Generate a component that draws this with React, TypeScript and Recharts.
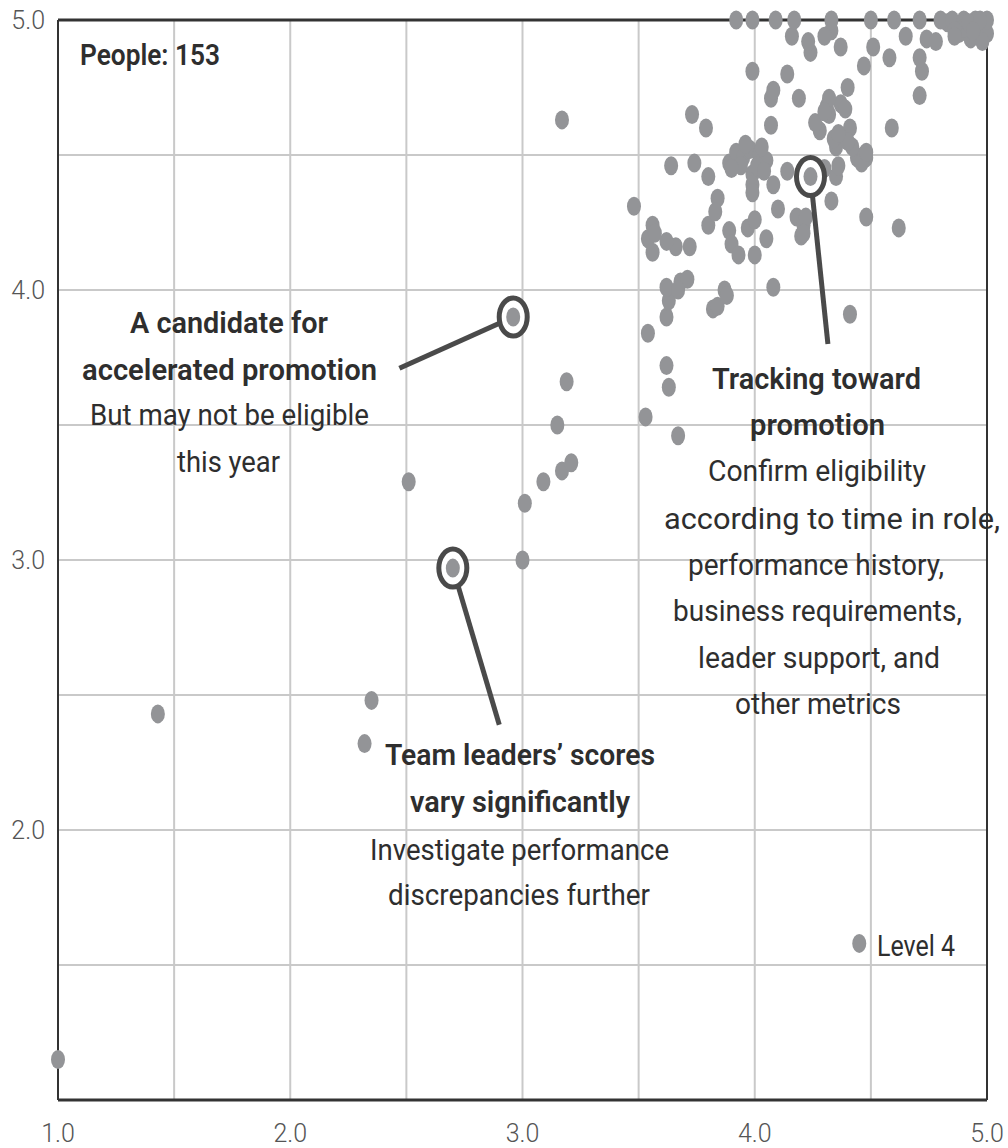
import React from "react"
import { ScatterChart, Scatter, XAxis, YAxis, CartesianGrid, ReferenceLine } from "recharts"

document.body.style.margin = "0"

// [performance score, team leader score] for each person
const people: [number, number][] = [
  [1.0, 1.15], [1.43, 2.43], [2.32, 2.32], [2.35, 2.48], [2.51, 3.29],
  [2.7, 2.97], [3.0, 3.0], [3.01, 3.21], [3.09, 3.29], [3.17, 3.33],
  [3.21, 3.36], [3.15, 3.5], [3.19, 3.66], [2.96, 3.9], [3.17, 4.63],
  [4.45, 1.58], [3.53, 3.53], [3.67, 3.46], [3.62, 3.72], [3.63, 3.64],
  [3.54, 3.84], [3.62, 3.9], [3.63, 3.96], [3.62, 4.01], [3.68, 4.03],
  [3.71, 4.04], [3.82, 3.93], [3.84, 3.94], [3.87, 4.0], [3.88, 3.98],
  [4.08, 4.01], [4.41, 3.91], [3.48, 4.31], [3.56, 4.24], [3.54, 4.19],
  [3.56, 4.14], [3.66, 4.16], [3.72, 4.16], [3.8, 4.24], [3.84, 4.34],
  [3.83, 4.29], [3.89, 4.22], [3.9, 4.17], [3.93, 4.13], [3.97, 4.23],
  [4.0, 4.26], [4.0, 4.13], [4.05, 4.19], [4.1, 4.3], [4.18, 4.27],
  [4.21, 4.24], [4.2, 4.2], [4.48, 4.27], [4.62, 4.23], [3.64, 4.46],
  [3.74, 4.47], [3.8, 4.42], [3.89, 4.47], [3.92, 4.51], [3.95, 4.49],
  [3.98, 4.52], [4.02, 4.5], [4.05, 4.48], [3.99, 4.43], [3.99, 4.39],
  [3.99, 4.36], [4.08, 4.39], [4.14, 4.44], [4.24, 4.42], [4.35, 4.42],
  [4.33, 4.33], [4.3, 4.45], [4.44, 4.49], [4.48, 4.49], [4.47, 4.5],
  [4.42, 4.53], [4.35, 4.53], [4.34, 4.56], [4.41, 4.6], [4.28, 4.59],
  [4.26, 4.62], [4.32, 4.65], [4.37, 4.69], [4.39, 4.67], [4.31, 4.68],
  [4.32, 4.71], [4.4, 4.75], [4.47, 4.83], [4.59, 4.6], [4.07, 4.61],
  [3.73, 4.65], [3.79, 4.6], [4.07, 4.71], [4.08, 4.74], [4.19, 4.71],
  [3.99, 4.81], [4.14, 4.8], [4.71, 4.72], [4.72, 4.81], [4.71, 4.86],
  [4.58, 4.86], [4.51, 4.9], [4.37, 4.9], [4.33, 4.96], [4.3, 4.94],
  [4.24, 4.88], [4.23, 4.92], [4.16, 4.94], [4.65, 4.94], [4.74, 4.93],
  [4.78, 4.92], [4.83, 4.99], [4.88, 4.95], [4.93, 4.93], [4.96, 4.97],
  [5.0, 4.95], [3.92, 5.0], [3.99, 5.0], [4.09, 5.0], [4.17, 5.0],
  [4.33, 5.0], [4.5, 5.0], [4.6, 5.0], [4.71, 5.0], [4.8, 5.0],
  [4.85, 5.0], [4.9, 5.0], [4.95, 5.0], [5.0, 5.0], [4.9, 4.97],
  [4.98, 4.92], [4.86, 4.96], [4.92, 4.99], [4.97, 5.0], [3.94, 4.46],
  [4.01, 4.46], [4.03, 4.53], [3.96, 4.54], [4.04, 4.44], [3.9, 4.45],
  [4.36, 4.46], [4.46, 4.47], [4.22, 4.27], [4.21, 4.21], [3.62, 4.18],
  [3.57, 4.21], [4.48, 4.51], [4.4, 4.55], [4.3, 4.66], [4.36, 4.58],
  [3.67, 4.0], [4.86, 4.94], [4.94, 4.96],
]

// circled people
const highlighted: [number, number][] = [
  [2.96, 3.9],
  [2.7, 2.97],
  [4.24, 4.42],
]

// leader line ends (from circled person to its note)
const leaderEnds: [number, number][] = [
  [2.47, 3.71],
  [2.9, 2.39],
  [4.315, 3.8],
]

const gridTicks = [1, 1.5, 2, 2.5, 3, 3.5, 4, 4.5, 5]
const yTicks = [1.5, 2, 2.5, 3, 3.5, 4, 4.5, 5]

const notes = [
  { text: "People: 153", x: 80, y: 65, w: 140, bold: true },
  { text: "A candidate for", x: 130, y: 333, w: 198, bold: true },
  { text: "accelerated promotion", x: 82, y: 380, w: 295, bold: true },
  { text: "But may not be eligible", x: 90, y: 425, w: 279, bold: false },
  { text: "this year", x: 177, y: 472, w: 103, bold: false },
  { text: "Tracking toward", x: 712, y: 389, w: 209, bold: true },
  { text: "promotion", x: 750, y: 435, w: 135, bold: true },
  { text: "Confirm eligibility", x: 708, y: 481, w: 218, bold: false },
  { text: "according to time in role,", x: 664, y: 529, w: 336, bold: false },
  { text: "performance history,", x: 688, y: 575, w: 256, bold: false },
  { text: "business requirements,", x: 673, y: 621, w: 289, bold: false },
  { text: "leader support, and", x: 698, y: 668, w: 242, bold: false },
  { text: "other metrics", x: 735, y: 714, w: 166, bold: false },
  { text: "Team leaders’ scores", x: 385, y: 765, w: 270, bold: true },
  { text: "vary significantly", x: 410, y: 812, w: 220, bold: true },
  { text: "Investigate performance", x: 370, y: 860, w: 299, bold: false },
  { text: "discrepancies further", x: 388, y: 905, w: 262, bold: false },
  { text: "Level 4", x: 877, y: 956, w: 78, bold: false },
]

const DOT = "#939497"
const INK = "#4a4a4a"

const toPoints = (list: [number, number][]) => list.map(([x, y]) => ({ x, y }))

const Dot = (props: any) => {
  const { cx, cy } = props
  if (cx == null || cy == null) return null
  return <ellipse cx={cx} cy={cy} rx={7} ry={9.5} fill={DOT} />
}

const Ring = (props: any) => {
  const { cx, cy } = props
  if (cx == null || cy == null) return null
  return (
    <g>
      <ellipse cx={cx} cy={cy} rx={14} ry={19} fill="#fff" stroke={INK} strokeWidth={5} />
      <ellipse cx={cx} cy={cy} rx={7} ry={9.5} fill={DOT} />
    </g>
  )
}

const NoShape = () => null

const tickFmt = (v: number) => (Number.isInteger(v) ? v.toFixed(1) : "")

export default function App() {
  const dots = toPoints(people)
  const rings = toPoints(highlighted)

  return (
    <div style={{ position: "relative", width: 1008, height: 1148, background: "#fff" }}>
      <ScatterChart width={1008} height={1148} margin={{ top: 20, right: 21, left: 0, bottom: 0 }}>
        <CartesianGrid stroke="#c9c9c9" strokeWidth={2} verticalPoints={undefined} />
        <XAxis
          type="number"
          dataKey="x"
          domain={[1, 5]}
          ticks={gridTicks}
          tickFormatter={tickFmt}
          height={48}
          tickSize={0}
          tickMargin={24}
          axisLine={false}
          tick={{ fill: "#555", fontSize: 25, fontFamily: "Roboto", fontWeight: 300 }}
        />
        <YAxis
          type="number"
          dataKey="y"
          domain={[1, 5]}
          ticks={yTicks}
          tickFormatter={tickFmt}
          width={58}
          tickSize={0}
          tickMargin={13}
          axisLine={false}
          tick={{ fill: "#555", fontSize: 25, fontFamily: "Roboto", fontWeight: 300 }}
        />
        <ReferenceLine x={1} stroke="#333" strokeWidth={2} />
        <ReferenceLine x={5} stroke="#333" strokeWidth={2} />
        <ReferenceLine y={5} stroke="#333" strokeWidth={3} />
        <ReferenceLine y={1} stroke="#333" strokeWidth={3} />
        <Scatter data={dots} shape={Dot} isAnimationActive={false} />
        {highlighted.map(([x, y], i) => (
          <Scatter
            key={i}
            data={[
              { x, y },
              { x: leaderEnds[i][0], y: leaderEnds[i][1] },
            ]}
            line={{ stroke: INK, strokeWidth: 5 }}
            shape={NoShape}
            isAnimationActive={false}
          />
        ))}
        <Scatter data={rings} shape={Ring} isAnimationActive={false} />
      </ScatterChart>
      <svg
        width={1008}
        height={1148}
        style={{ position: "absolute", left: 0, top: 0, pointerEvents: "none" }}
      >
        {notes.map((n) => (
          <text
            key={n.text}
            x={n.x}
            y={n.y}
            textLength={n.w}
            lengthAdjust="spacingAndGlyphs"
            fontFamily="Roboto, sans-serif"
            fontSize={30}
            fontWeight={n.bold ? 600 : 400}
            fill="#2e2e2e"
          >
            {n.text}
          </text>
        ))}
      </svg>
    </div>
  )
}
